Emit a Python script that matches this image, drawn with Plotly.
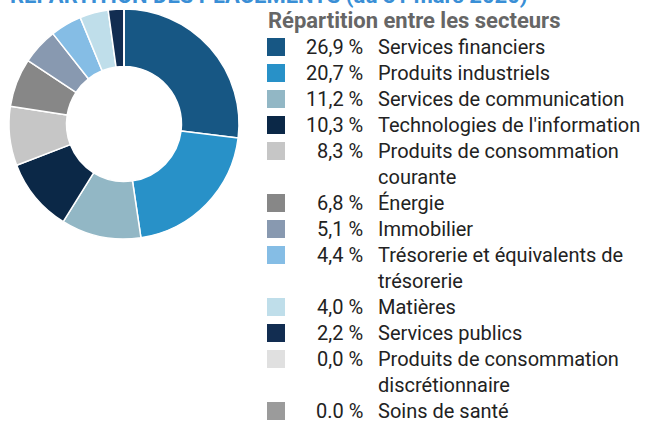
import plotly.graph_objects as go

# Sector allocation data
sectors = [
    "Services financiers",
    "Produits industriels",
    "Services de communication",
    "Technologies de l'information",
    "Produits de consommation<br>courante",
    "Énergie",
    "Immobilier",
    "Trésorerie et équivalents de<br>trésorerie",
    "Matières",
    "Services publics",
    "Produits de consommation<br>discrétionnaire",
    "Soins de santé",
]
weights = [26.9, 20.7, 11.2, 10.3, 8.3, 6.8, 5.1, 4.4, 4.0, 2.2, 0.0, 0.0]
decimal_sep = [",", ",", ",", ",", ",", ",", ",", ",", ",", ",", ",", "."]
colors = [
    "#175784", "#2891c8", "#92b7c5", "#0b2847", "#c6c6c6", "#878787",
    "#8899b0", "#85bde5", "#bfdeea", "#122d51", "#e0e0e0", "#9b9b9b",
]

title_text = "RÉPARTITION DES PLACEMENTS (au 31 mars 2020)"
legend_title = "Répartition entre les secteurs"

W, H = 649, 421
FONT = "Roboto"


def px_x(x):
    return x / W


def px_y(y):
    return 1 - y / H


fig = go.Figure(
    go.Pie(
        labels=[s.replace("<br>", " ") for s in sectors],
        values=weights,
        marker=dict(colors=colors, line=dict(color="white", width=1.5)),
        hole=0.5,
        sort=False,
        direction="clockwise",
        rotation=0,
        textinfo="none",
        hoverinfo="label+percent",
        showlegend=False,
        domain=dict(x=[px_x(9), px_x(239)], y=[px_y(239), px_y(9)]),
    )
)

annotations = [
    dict(
        text=f"<b>{title_text}</b>", x=px_x(8), y=px_y(-4.5),
        xanchor="left", yanchor="middle", showarrow=False,
        font=dict(family=FONT, size=22, color="#3a8fd6"),
    ),
    dict(
        text=f"<b>{legend_title}</b>", x=px_x(266), y=px_y(21),
        xanchor="left", yanchor="middle", showarrow=False,
        font=dict(family=FONT, size=22, color="#666666"),
    ),
]
shapes = []

line_h = 26.0
y0 = 47
line = 0
for name, val, sep, col in zip(sectors, weights, decimal_sep, colors):
    yc = y0 + line * line_h
    shapes.append(dict(
        type="rect", xref="paper", yref="paper",
        x0=px_x(267), x1=px_x(285), y0=px_y(yc + 9), y1=px_y(yc - 9),
        fillcolor=col, line=dict(width=0),
    ))
    pct = f"{val:.1f}".replace(".", sep) + " %"
    annotations.append(dict(
        text=pct, x=px_x(365), y=px_y(yc),
        xanchor="right", yanchor="middle", showarrow=False,
        font=dict(family=FONT, size=20, color="#222222"),
    ))
    parts = name.split("<br>")
    for i, p in enumerate(parts):
        annotations.append(dict(
            text=p, x=px_x(376), y=px_y(yc + i * line_h),
            xanchor="left", yanchor="middle", showarrow=False,
            font=dict(family=FONT, size=20, color="#222222"),
        ))
    line += len(parts)

fig.update_layout(
    width=W, height=H,
    margin=dict(l=0, r=0, t=0, b=0),
    paper_bgcolor="white",
    plot_bgcolor="white",
    annotations=annotations,
    shapes=shapes,
)

fig.write_html("out.html")
